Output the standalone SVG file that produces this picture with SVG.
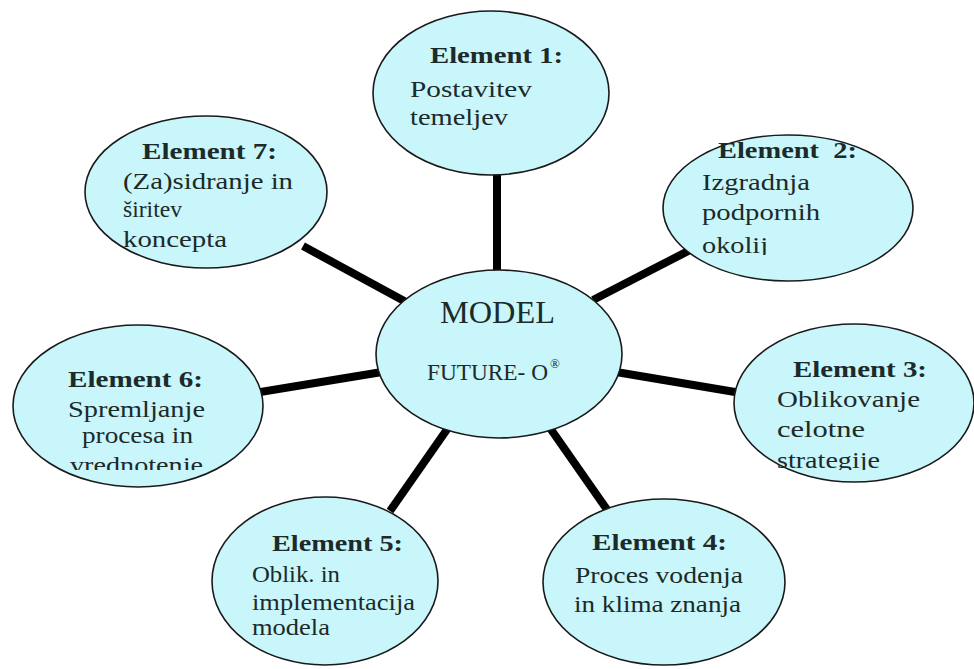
<svg xmlns="http://www.w3.org/2000/svg" width="974" height="669" viewBox="0 0 974 669" font-family="'Liberation Serif', 'DejaVu Serif', serif">
<defs>
<style>
.node ellipse{fill:#c9f6fa;stroke:#1a1a1a;stroke-width:1.6}
text{font-family:'Liberation Serif','DejaVu Serif',serif;fill:#1c2a2a}
.t{font-size:23px}
.h{font-size:23px;font-weight:bold}
.conn line{stroke:#000;stroke-width:8;stroke-linecap:butt}
</style>
<clipPath id="c7" clipPathUnits="userSpaceOnUse"><rect x="0" y="0" width="400" height="254"/></clipPath>
<clipPath id="c2" clipPathUnits="userSpaceOnUse"><rect x="600" y="0" width="374" height="255"/></clipPath>
<clipPath id="c6" clipPathUnits="userSpaceOnUse"><rect x="0" y="300" width="300" height="170"/></clipPath>
<clipPath id="c3" clipPathUnits="userSpaceOnUse"><rect x="700" y="300" width="274" height="170"/></clipPath>
</defs>
<rect width="974" height="669" fill="#fff"/>
<g id="connectors" class="conn">
<line x1="497" y1="170" x2="497" y2="276"/>
<line x1="303" y1="246" x2="406" y2="302"/>
<line x1="694" y1="248" x2="593" y2="300"/>
<line x1="254" y1="393" x2="382" y2="372"/>
<line x1="616" y1="372" x2="741" y2="393"/>
<line x1="448" y1="428" x2="390" y2="511"/>
<line x1="550" y1="428" x2="608" y2="511"/>
</g>
<g id="center" class="node">
<ellipse cx="499" cy="354" rx="123" ry="84"/>
<text x="440" y="323" font-size="31" textLength="115" lengthAdjust="spacingAndGlyphs">MODEL</text>
<text x="427" y="380" font-size="23" textLength="121" lengthAdjust="spacingAndGlyphs">FUTURE- O</text>
<text x="550" y="368" font-size="13">®</text>
</g>
<g id="element1" class="node">
<ellipse cx="491" cy="93" rx="118" ry="82"/>
<text class="h" x="430" y="63" textLength="133" lengthAdjust="spacingAndGlyphs">Element 1:</text>
<text class="t" x="410" y="97" textLength="122" lengthAdjust="spacingAndGlyphs">Postavitev</text>
<text class="t" x="410" y="125" textLength="98" lengthAdjust="spacingAndGlyphs">temeljev</text>
</g>
<g id="element2" class="node">
<ellipse cx="788" cy="208" rx="125" ry="73"/>
<g clip-path="url(#c2)">
<text class="h" x="718" y="158" textLength="139" lengthAdjust="spacingAndGlyphs" xml:space="preserve">Element  2:</text>
<text class="t" x="702" y="190" textLength="108" lengthAdjust="spacingAndGlyphs">Izgradnja</text>
<text class="t" x="702" y="220" textLength="118" lengthAdjust="spacingAndGlyphs">podpornih</text>
<text class="t" x="702" y="253" textLength="66" lengthAdjust="spacingAndGlyphs">okolij</text>
</g>
</g>
<g id="element3" class="node">
<ellipse cx="854" cy="403" rx="120" ry="79"/>
<g clip-path="url(#c3)">
<text class="h" x="793" y="377" textLength="134" lengthAdjust="spacingAndGlyphs">Element 3:</text>
<text class="t" x="777" y="407" textLength="143" lengthAdjust="spacingAndGlyphs">Oblikovanje</text>
<text class="t" x="777" y="437" textLength="88" lengthAdjust="spacingAndGlyphs">celotne</text>
<text class="t" x="777" y="468" textLength="103" lengthAdjust="spacingAndGlyphs">strategije</text>
</g>
</g>
<g id="element4" class="node">
<ellipse cx="664" cy="582" rx="121" ry="83"/>
<text class="h" x="592" y="550" textLength="135" lengthAdjust="spacingAndGlyphs">Element 4:</text>
<text class="t" x="575" y="583" textLength="168" lengthAdjust="spacingAndGlyphs">Proces vodenja</text>
<text class="t" x="574" y="612" textLength="167" lengthAdjust="spacingAndGlyphs">in klima znanja</text>
</g>
<g id="element5" class="node">
<ellipse cx="325" cy="581" rx="113" ry="84"/>
<text class="h" x="272" y="551" textLength="131" lengthAdjust="spacingAndGlyphs">Element 5:</text>
<text class="t" x="252" y="582" textLength="88" lengthAdjust="spacingAndGlyphs">Oblik. in</text>
<text class="t" x="252" y="610" textLength="163" lengthAdjust="spacingAndGlyphs">implementacija</text>
<text class="t" x="252" y="635" textLength="78" lengthAdjust="spacingAndGlyphs">modela</text>
</g>
<g id="element6" class="node">
<ellipse cx="138" cy="406" rx="125" ry="81"/>
<g clip-path="url(#c6)">
<text class="h" x="68" y="387" textLength="135" lengthAdjust="spacingAndGlyphs">Element 6:</text>
<text class="t" x="68" y="417" textLength="137" lengthAdjust="spacingAndGlyphs">Spremljanje</text>
<text class="t" x="82" y="443" textLength="111" lengthAdjust="spacingAndGlyphs">procesa in</text>
<text class="t" x="70" y="473" textLength="133" lengthAdjust="spacingAndGlyphs">vrednotenje</text>
</g>
</g>
<g id="element7" class="node">
<ellipse cx="206" cy="192" rx="121" ry="76"/>
<g clip-path="url(#c7)">
<text class="h" x="142" y="159" textLength="135" lengthAdjust="spacingAndGlyphs">Element 7:</text>
<text class="t" x="123" y="189" textLength="170" lengthAdjust="spacingAndGlyphs">(Za)sidranje in</text>
<text class="t" x="123" y="217" textLength="59" lengthAdjust="spacingAndGlyphs">širitev</text>
<text class="t" x="123" y="247" textLength="104" lengthAdjust="spacingAndGlyphs">koncepta</text>
</g>
</g>
</svg>
